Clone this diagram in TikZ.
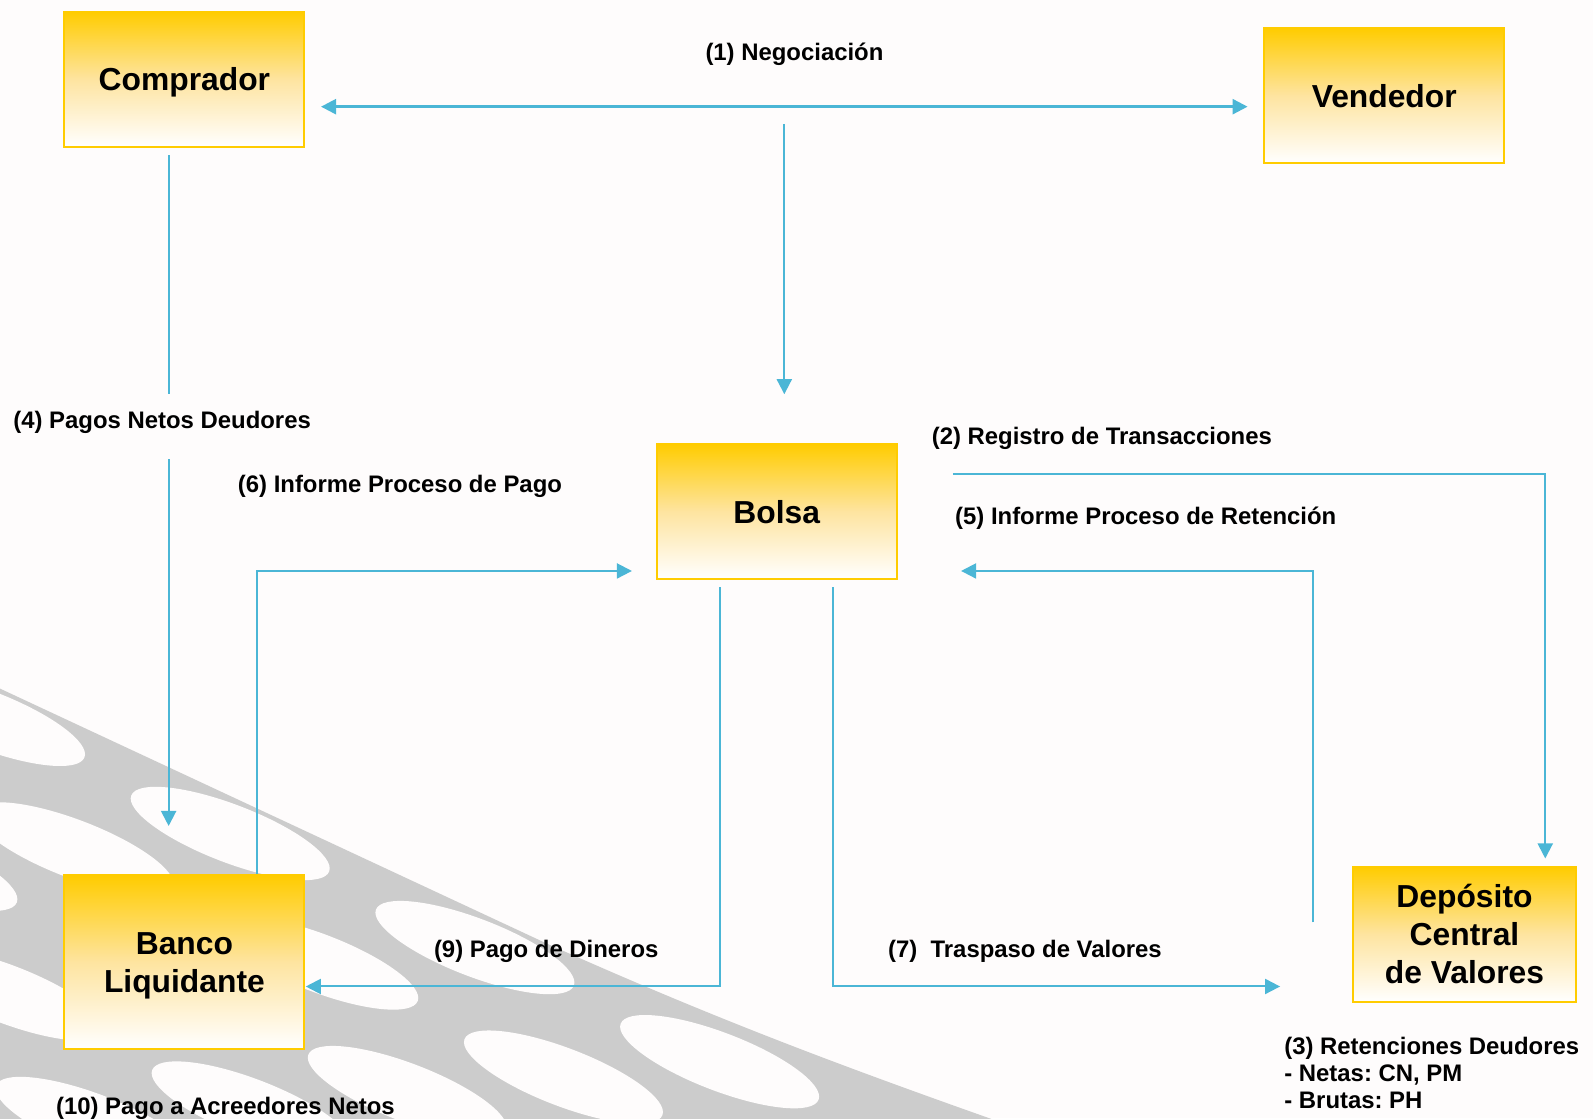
\documentclass[tikz,border=0pt]{standalone}
\usepackage{fontspec}
\setmainfont{Liberation Sans}
\frenchspacing
\usetikzlibrary{arrows.meta}
\definecolor{gold}{RGB}{255,204,0}
\definecolor{goldmid}{RGB}{254,228,160}
\definecolor{arrowblue}{RGB}{75,182,214}
\definecolor{bandgray}{RGB}{204,204,204}
\definecolor{paper}{RGB}{254,252,252}
\begin{document}
\begin{tikzpicture}[x=1.01594pt,y=-1.01594pt,
  box/.style={draw=gold, line width=2pt, top color=gold, bottom color=white, middle color=goldmid,
    minimum width=239.8pt, minimum height=135.1pt, inner sep=0pt, align=center, text depth=0pt,
    font=\fontsize{31.8}{38.1}\selectfont\bfseries},
  conn/.style={draw=arrowblue, line width=2pt},
  tip/.style={-{Triangle[length=15pt,width=15pt]}},
  lbl/.style={font=\fontsize{23.9}{27.6}\selectfont\bfseries, inner sep=0pt, anchor=west}]
\useasboundingbox (0,0) rectangle (1568,1100.5);
\fill[paper] (0,0) rectangle (1568,1100.5);
% background pattern
\begin{scope}
\clip (0,0) rectangle (1568,1100.5);
\begin{scope}[scale=0.98431, shift={(0,693)}, rotate=-25]
\fill[bandgray] (-400,-4) -- (600,-4) .. controls (850,-8) and (1000,-25) .. (1300,-55) -- (1300,900) -- (-400,900) -- cycle;
\foreach \k in {0,...,7}{
  \foreach \j in {-3,...,5}{
    \pgfmathsetmacro{\u}{268+270*\j+135*mod(\k,2)}
    \pgfmathsetmacro{\v}{30+80*\k}
    \fill[paper, rotate around={4:(\u,\v)}] (\u,\v) ellipse [x radius=106, y radius=29];
  }}
\end{scope}
\end{scope}
% boxes
\node[box] (comprador) at (181.5,78) {Comprador};
\node[box] (vendedor) at (1362.5,94) {Vendedor};
\node[box] (bolsa) at (764.5,503.5) {Bolsa};
\node[box, minimum height=173.7pt] (banco) at (181.5,947) {Banco\\Liquidante};
\node[box, minimum width=223.5pt] (dcv) at (1441.5,919.5) {Depósito\\Central\\de Valores};
% connectors
\coordinate (negL) at (316,105); \coordinate (negR) at (1228,105);
\draw[conn, line width=2.5pt, {Triangle[length=15pt,width=15pt]}-{Triangle[length=15pt,width=15pt]}] (negL) -- (negR);
\coordinate (negM) at (772,122); \coordinate (bolsaIn) at (772,388);
\draw[conn,tip] (negM) -- (bolsaIn);
\coordinate (c4a) at (166,153); \coordinate (c4b) at (166,388);
\coordinate (c4c) at (166,452); \coordinate (c4d) at (166,813);
\draw[conn] (c4a) -- (c4b);
\draw[conn,tip] (c4c) -- (c4d);
\coordinate (c6a) at (253,860); \coordinate (c6b) at (622,562);
\draw[conn,tip] (c6a) |- (c6b);
\coordinate (c2a) at (938,467); \coordinate (c2b) at (1521,845);
\draw[conn,tip] (c2a) -| (c2b);
\coordinate (c5a) at (1292,908); \coordinate (c5b) at (946,562);
\draw[conn,tip] (c5a) |- (c5b);
\coordinate (c9a) at (709,578); \coordinate (c9b) at (301,971);
\draw[conn,tip] (c9a) |- (c9b);
\coordinate (c7a) at (820,578); \coordinate (c7b) at (1260,971);
\draw[conn,tip] (c7a) |- (c7b);
% labels
\node[lbl, anchor=center] (l1) at (782,53.5) {(1) Negociación};
\node[lbl] (l4) at (13,415.5) {(4) Pagos Netos Deudores};
\node[lbl] (l6) at (234,478.5) {(6) Informe Proceso de Pago};
\node[lbl] (l2) at (917,431.5) {(2) Registro de Transacciones};
\node[lbl] (l5) at (940,510.5) {(5) Informe Proceso de Retención};
\node[lbl] (l9) at (427,936.5) {(9) Pago de Dineros};
\node[lbl] (l7) at (874,936.5) {(7)\ \ Traspaso de Valores};
\node[lbl] (l10) at (55,1090.5) {(10) Pago a Acreedores Netos};
\node[lbl, anchor=north west, align=left, font=\fontsize{23.9}{27.2}\selectfont\bfseries] (l3) at (1264,1020.5) {(3) Retenciones Deudores\\- Netas: CN, PM\\- Brutas: PH};
\end{tikzpicture}
\end{document}
